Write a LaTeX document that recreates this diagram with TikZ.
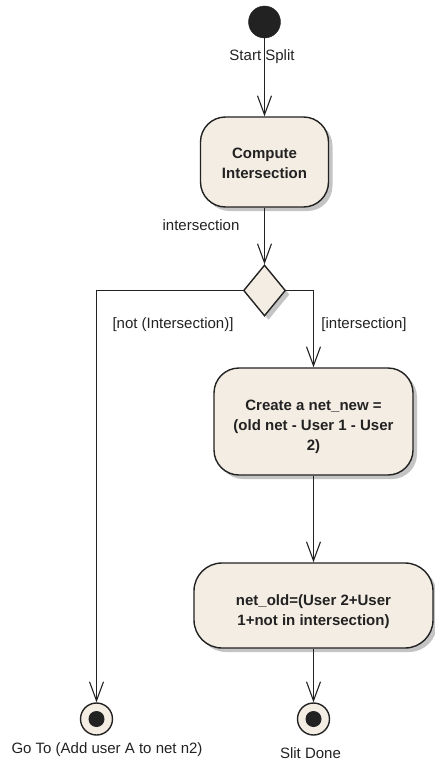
\documentclass[tikz,border=0pt]{standalone}
\usepackage{fontspec}
\setmainfont{Liberation Sans}
\usetikzlibrary{shapes.geometric,arrows.meta,shadows}
\definecolor{boxfill}{HTML}{F4EDE3}
\definecolor{ink}{HTML}{222222}
\definecolor{shade}{HTML}{C4C4C4}
\begin{document}
\begin{tikzpicture}[x=1pt,y=-1pt,
  every node/.style={text=ink},
  lbl/.style={font=\fontsize{15}{20}\selectfont, inner sep=0pt, anchor=base},
  boldtxt/.style={font=\fontsize{15}{20}\selectfont\bfseries, align=center, inner sep=0pt},
  act/.style={draw=ink, line width=1.4pt, fill=boxfill, rounded corners=25pt, inner sep=0pt,
    drop shadow={shadow xshift=4pt, shadow yshift=-4pt, fill=shade, opacity=1}},
  decision/.style={diamond, draw=ink, line width=1.4pt, fill=boxfill, inner sep=0pt,
    minimum width=42pt, minimum height=51pt,
    drop shadow={shadow xshift=4pt, shadow yshift=-4pt, fill=shade, opacity=1}},
  initial/.style={circle, fill=ink, draw=ink, minimum size=32pt, inner sep=0pt},
  final/.style={circle, draw=ink, line width=1.4pt, fill=boxfill, minimum size=32pt, inner sep=0pt},
  finaldot/.style={circle, fill=ink, minimum size=16pt, inner sep=0pt},
  arr/.style={draw=ink, line width=1.1pt, -{Straight Barb[length=19pt, width=14pt]}}
]
\useasboundingbox (0,0) rectangle (434,760);

% nodes
\node[initial] (start) at (264.5,22) {};
\node[lbl] (startlbl) at (262,61) {Start Split};

\node[act, minimum width=128pt, minimum height=90pt] (compute) at (264.5,162) {};
\node[boldtxt] (computetxt) at (264.5,163.5) {Compute\\Intersection};
\node[lbl] (interlbl) at (201,230) {intersection};

\node[decision] (dec) at (264.5,290.5) {};
\node[lbl] (notlbl) at (173,328) {[not (Intersection)]};
\node[lbl] (yeslbl) at (364,328) {[intersection]};

\node[act, minimum width=199pt, minimum height=107pt] (create) at (313.5,421.5) {};
\node[boldtxt] (createtxt) at (313.5,427) {Create a net\_new =\\(old net - User 1 - User\\2)};

\node[act, minimum width=239pt, minimum height=85pt, rounded corners=28pt] (netold) at (313.5,605.5) {};
\node[boldtxt] (netoldtxt) at (313.5,611.5) {net\_old=(User 2+User\\1+not in intersection)};

\node[final] (endA) at (96.5,719) {};
\node[finaldot] (endAdot) at (endA) {};
\node[lbl] (endAlbl) at (107,753) {Go To (Add user A to net n2)};

\node[final] (endB) at (313.5,719) {};
\node[finaldot] (endBdot) at (endB) {};
\node[lbl] (endBlbl) at (310.5,758) {Slit Done};

% connectors
\draw[arr] (start) -- (compute);
\draw[arr] (compute) -- (dec);
\draw[arr] (dec.west) -| (endA);
\draw[arr] (dec.east) -| (create);
\draw[arr] (create) -- (netold);
\draw[arr] (netold) -- (endB);
\end{tikzpicture}
\end{document}
